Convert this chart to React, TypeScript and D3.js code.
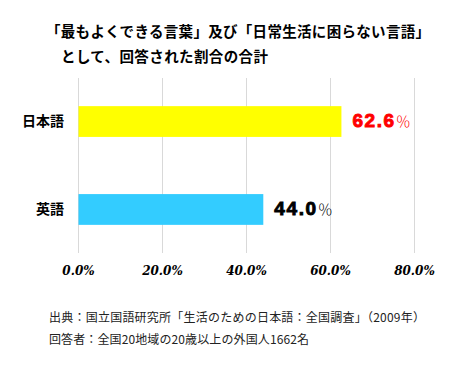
import React from 'react'
import * as d3 from 'd3'

const categories = ['日本語', '英語']
const values = [62.6, 44.0]
const barColors = ['#ffff00', '#33ccff']
const valueColors = ['#ff0000', '#000000']
const ticks = [0, 20, 40, 60, 80]
const titleLines = [
  '「最もよくできる言葉」及び「日常生活に困らない言語」',
  'として、回答された割合の合計',
]
const notes = [
  '出典：国立国語研究所「生活のための日本語：全国調査」（2009年）',
  '回答者：全国20地域の20歳以上の外国人1662名',
]

const W = 463
const H = 366
const font = '"Noto Sans CJK JP", "Noto Sans", sans-serif'

const titleBox = [{ x: 46, len: 384 }, { x: 61, len: 207 }]
const noteBox = [{ x: 49, len: 376 }, { x: 49, len: 260 }]

export default function App() {
  const x = d3.scaleLinear().domain([0, 80]).range([78.5, 414.5])
  const y = d3.scaleBand().domain(categories).range([78, 253]).paddingInner(0.65).paddingOuter(0.32)

  return (
    <svg width={W} height={H} style={{ position: 'absolute', left: 0, top: 0, background: '#fff' }}>
      {titleLines.map((t, i) => (
        <text key={i} x={titleBox[i].x} y={37 + i * 25} textLength={titleBox[i].len} lengthAdjust="spacing"
          fontFamily={font} fontSize={14.5} fontWeight={700} fill="#000">
          {t}
        </text>
      ))}
      {ticks.map(t => (
        <line key={t} x1={x(t)} x2={x(t)} y1={78} y2={253} stroke="#d9d9d9" strokeWidth={1} />
      ))}
      {categories.map((c, i) => (
        <g key={c}>
          <rect x={x(0)} y={y(c)} width={x(values[i]) - x(0)} height={y.bandwidth()} fill={barColors[i]} />
          <text x={64} y={y(c)! + y.bandwidth() / 2} dy="0.35em" textAnchor="end" fontFamily={font} fontSize={14} fontWeight={700}>
            {c}
          </text>
          <text x={x(values[i]) + 11} y={y(c)! + y.bandwidth() / 2} dy="0.36em" fontFamily={font}>
            <tspan fontFamily='"Liberation Sans", Arial, sans-serif' fontWeight={700} fontSize={19}
              fill={valueColors[i]} stroke={valueColors[i]} strokeWidth={0.9} style={{ letterSpacing: '1.6px' }}>
              {values[i].toFixed(1)}
            </tspan>
            <tspan fontSize={15} fontWeight={300} fill={valueColors[i]}>％</tspan>
          </text>
        </g>
      ))}
      {ticks.map(t => (
        <text key={t} x={x(t)} y={275} textAnchor="middle" fontFamily='"DejaVu Serif", serif' fontStyle="italic" fontWeight={700} fontSize={12}>
          {t.toFixed(1) + '%'}
        </text>
      ))}
      {notes.map((n, i) => (
        <text key={i} x={noteBox[i].x} y={322 + i * 22} textLength={noteBox[i].len} lengthAdjust="spacing"
          fontFamily={font} fontSize={12} fill="#222">
          {n}
        </text>
      ))}
    </svg>
  )
}
